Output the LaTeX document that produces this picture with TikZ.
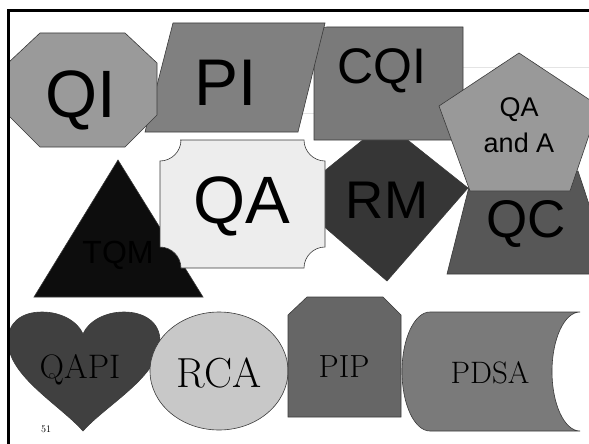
\documentclass[tikz,border=0pt]{standalone}
\usepackage{fontspec}
\newfontfamily\arialf{Liberation Sans}
\definecolor{cQI}{HTML}{9A9A9A}
\definecolor{cPI}{HTML}{808080}
\definecolor{cCQI}{HTML}{7A7A7A}
\definecolor{cPent}{HTML}{999999}
\definecolor{cQC}{HTML}{575757}
\definecolor{cRM}{HTML}{363636}
\definecolor{cTQM}{HTML}{0D0D0D}
\definecolor{cQA}{HTML}{EDEDED}
\definecolor{cHeart}{HTML}{404040}
\definecolor{cRCA}{HTML}{C8C8C8}
\definecolor{cPIP}{HTML}{666666}
\definecolor{cPDSA}{HTML}{7A7A7A}
\definecolor{cFaint}{HTML}{E4E4E4}
\definecolor{cEdge}{HTML}{3A3A3A}
\begin{document}
\begin{tikzpicture}[x=1pt,y=-1pt,
  shp/.style={draw=cEdge, line width=0.6pt},
  sanslbl/.style={inner sep=0pt, anchor=base, font=\arialf\fontsize{#1}{#1}\selectfont},
  seriflbl/.style={inner sep=0pt, anchor=base, font=\fontsize{#1}{#1}\selectfont},
  framerule/.style={line width=2.6pt, black}]
\useasboundingbox (0,0) rectangle (589,444);
% faint leftover rules
\draw[cFaint, line width=1pt] (290,113) -- (589,113);
\draw[cFaint, line width=1pt] (463,68) -- (589,68);
% RM diamond
\path[shp, fill=cRM] (385,122) -- (468,188) -- (387,281) -- (291,198) -- cycle;
% CQI
\path[shp, fill=cCQI] (314,140) -- (314,40) .. controls (314,32) and (319,27) .. (327,27)
  -- (463,27) -- (463,140) -- cycle;
% PI parallelogram
\path[shp, fill=cPI] (173,23) -- (325,23) -- (298,132) -- (145,132) -- cycle;
% QI octagon
\path[shp, fill=cQI] (40,33) -- (125,33) -- (157,63) -- (157,115) -- (125,147)
  -- (40,147) -- (8,115) -- (8,63) -- cycle;
% QC trapezoid
\path[shp, fill=cQC] (473,171) -- (578,171) -- (612,274) -- (447,274) -- cycle;
% pentagon
\path[shp, fill=cPent] (519,53) -- (599,106) -- (570,191) -- (470,191) -- (439,106) -- cycle;
% TQM triangle
\path[shp, fill=cTQM] (118,160) -- (203,297) -- (34,297) -- cycle;
% QA ticket
\path[shp, fill=cQA] (180,140) -- (304,140) .. controls (304,151.5) and (313.5,161) .. (325,161)
  -- (325,247) .. controls (313.5,247) and (304,256.5) .. (304,268)
  -- (181,268) .. controls (181,256.5) and (171.5,247) .. (160,247)
  -- (160,161) .. controls (171.5,161) and (181,151.5) .. (181,140) -- cycle;
% heart
\path[shp, fill=cHeart] (83,431) .. controls (60,405) and (8,376) .. (8,341)
  .. controls (8,322) and (22,312) .. (42,312)
  .. controls (62,312) and (78,322) .. (83,334)
  .. controls (88,322) and (104,312) .. (124,312)
  .. controls (144,312) and (160,322) .. (160,341)
  .. controls (160,376) and (106,405) .. (83,431) -- cycle;
% RCA ellipse
\path[shp, fill=cRCA] (219,371) ellipse [x radius=69, y radius=59];
% PIP snipped rectangle
\path[shp, fill=cPIP] (288,417) -- (288,315) -- (307,297) -- (383,297) -- (401,315) -- (401,417) -- cycle;
% PDSA cylinder
\path[shp, fill=cPDSA] (430,312) -- (580,312)
  .. controls (564.5,312) and (552,338.6) .. (552,371.5)
  .. controls (552,404.4) and (564.5,431) .. (580,431)
  -- (430,431)
  .. controls (414.5,431) and (402,404.4) .. (402,371.5)
  .. controls (402,338.6) and (414.5,312) .. (430,312) -- cycle;
% labels
\node[sanslbl=67] (qi) at (81,117) {QI};
\node[sanslbl=66] (pi) at (226,105) {PI};
\node[sanslbl=50] (cqi) at (382,83) {CQI};
\node[inner sep=0pt, anchor=north, align=center, font=\arialf\fontsize{27}{36}\selectfont] (qaa) at (519,97.7) {QA\\and A};
\node[sanslbl=32, text=black] (tqm) at (118,263) {TQM};
\node[sanslbl=67] (qa) at (242,223) {QA};
\node[sanslbl=53] (rm) at (387,218) {RM};
\node[sanslbl=53] (qc) at (526,237) {QC};
\node[seriflbl=34] (qapi) at (80,378) {QAPI};
\node[seriflbl=42] (rca) at (219,387) {RCA};
\node[seriflbl=32] (pip) at (344,377) {PIP};
\node[seriflbl=31] (pdsa) at (490,383) {PDSA};
\node[seriflbl=10] (pg) at (46,432) {51};
% slide frame
\draw[framerule] (7,10.5) -- (589,10.5);
\draw[framerule] (8.5,9.2) -- (8.5,444);
\end{tikzpicture}
\end{document}
